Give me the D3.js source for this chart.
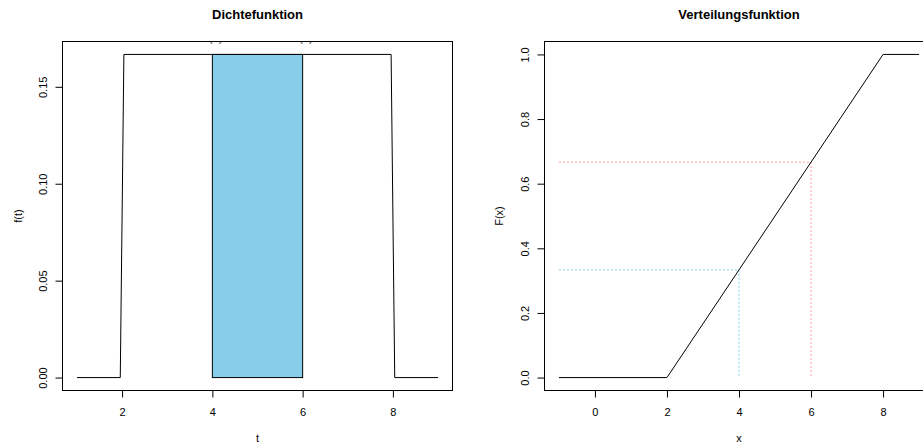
<!DOCTYPE html>
<html>
<head>
<meta charset="utf-8">
<script src="https://cdn.jsdelivr.net/npm/d3@7"></script>
<style>
  html, body { margin: 0; padding: 0; background: #ffffff; }
  svg { display: block; font-family: "Liberation Sans", Arial, Helvetica, sans-serif; }
</style>
</head>
<body>
<svg id="chart" width="923" height="446"></svg>
<script>
// ---------- data ----------
const densT = [1, 1.96, 2.04, 7.96, 8.04, 9];
const densF = [0, 0, 0.1667, 0.1667, 0, 0];
const shadeT = [4, 6];
const shadeF = 0.1667;
const shadeLabels = ["F(4)", "F(6)"];

const cdfX = [-1, 2, 8, 9];
const cdfF = [0, 0, 1, 1];
const refX = [4, 6];
const refF = [0.3333, 0.6667];
const refColors = ["#87cdec", "#ff9a9a"];

const leftXTicks = [2, 4, 6, 8];
const leftYTicks = [0, 0.05, 0.10, 0.15];
const rightXTicks = [0, 2, 4, 6, 8];
const rightYTicks = [0, 0.2, 0.4, 0.6, 0.8, 1.0];

const titles = ["Dichtefunktion", "Verteilungsfunktion"];
const xTitles = ["t", "x"];
const yTitles = ["f(t)", "F(x)"];

// ---------- layout ----------
const svg = d3.select("#chart");
const plotTop = 41.5, plotBottom = 390.5;
const panels = [
  { left: 62.5, right: 452.5, xDom: [1, 9], yDom: [0, 0.1667], xTicks: leftXTicks, yTicks: leftYTicks, yFmt: d3.format(".2f"), yLabOff: 15.6 },
  { left: 544.5, right: 933.5, xDom: [-1, 9], yDom: [0, 1], xTicks: rightXTicks, yTicks: rightYTicks, yFmt: d3.format(".1f"), yLabOff: 16 }
];

function ext(d) { const e = (d[1] - d[0]) * 0.04; return [d[0] - e, d[1] + e]; }

panels.forEach((p, i) => {
  p.x = d3.scaleLinear().domain(ext(p.xDom)).range([p.left, p.right]);
  p.y = d3.scaleLinear().domain(ext(p.yDom)).range([plotBottom, plotTop]);
  const clipId = "clip" + i;
  svg.append("clipPath").attr("id", clipId)
    .append("rect").attr("x", p.left).attr("y", plotTop)
    .attr("width", p.right - p.left).attr("height", plotBottom - plotTop);
  p.plot = svg.append("g").attr("clip-path", `url(#${clipId})`);

  // x axis
  const xa = svg.append("g").attr("transform", `translate(0,${plotBottom})`)
    .call(d3.axisBottom(p.x).tickValues(p.xTicks).tickSize(7).tickPadding(11).tickFormat(d3.format("d")));
  xa.select(".domain").remove();
  xa.selectAll("line").attr("stroke", "#000");
  xa.selectAll("text").attr("font-size", 11).attr("fill", "#000")
    .attr("font-family", "Liberation Sans, Arial, sans-serif");

  // y axis
  const ya = svg.append("g").attr("transform", `translate(${p.left},0)`)
    .call(d3.axisLeft(p.y).tickValues(p.yTicks).tickSize(7).tickFormat(p.yFmt));
  ya.select(".domain").remove();
  ya.selectAll("line").attr("stroke", "#000");
  ya.selectAll("text").attr("font-size", 11).attr("fill", "#000")
    .attr("font-family", "Liberation Sans, Arial, sans-serif")
    .attr("x", null).attr("dy", null).attr("y", null)
    .attr("text-anchor", "middle")
    .attr("transform", `translate(${-p.yLabOff},0) rotate(-90)`);

  // box
  svg.append("rect").attr("x", p.left).attr("y", plotTop)
    .attr("width", p.right - p.left).attr("height", plotBottom - plotTop)
    .attr("fill", "none").attr("stroke", "#000").attr("stroke-width", 1);

  // titles
  const cx = (p.left + p.right) / 2;
  svg.append("text").attr("x", cx).attr("y", 19.3).attr("text-anchor", "middle")
    .attr("font-size", 13).attr("font-weight", "bold").text(titles[i]);
  svg.append("text").attr("x", cx).attr("y", 442).attr("text-anchor", "middle")
    .attr("font-size", 11).text(xTitles[i]);
  const yl = i === 0 ? 21.7 : 502.7;
  svg.append("text").attr("transform", `translate(${yl},${(plotTop + plotBottom) / 2}) rotate(-90)`)
    .attr("text-anchor", "middle").attr("font-size", 11).text(yTitles[i]);
});

// ---------- left: density ----------
const L = panels[0];
L.plot.append("path")
  .attr("d", d3.line()(densT.map((t, k) => [L.x(t), L.y(densF[k])])))
  .attr("fill", "none").attr("stroke", "#000").attr("stroke-width", 1);
L.plot.append("rect")
  .attr("x", L.x(shadeT[0])).attr("y", L.y(shadeF))
  .attr("width", L.x(shadeT[1]) - L.x(shadeT[0]))
  .attr("height", L.y(0) - L.y(shadeF))
  .attr("fill", "#87ceeb").attr("stroke", "#000").attr("stroke-width", 1);
L.plot.selectAll("text.lab").data(shadeT).join("text").attr("class", "lab")
  .attr("x", d => L.x(d)).attr("y", 41.8).attr("text-anchor", "middle")
  .attr("font-size", 11).attr("fill", "#333").text((d, k) => shadeLabels[k]);

// ---------- right: cdf ----------
const R = panels[1];
refX.forEach((xv, k) => {
  R.plot.append("path")
    .attr("d", d3.line()([[R.x(cdfX[0]), R.y(refF[k])], [R.x(xv), R.y(refF[k])], [R.x(xv), R.y(0)]]))
    .attr("fill", "none").attr("stroke", refColors[k]).attr("stroke-width", 1)
    .attr("stroke-dasharray", "2,2");
});
R.plot.append("path")
  .attr("d", d3.line()(cdfX.map((xv, k) => [R.x(xv), R.y(cdfF[k])])))
  .attr("fill", "none").attr("stroke", "#000").attr("stroke-width", 1);
</script>
</body>
</html>
